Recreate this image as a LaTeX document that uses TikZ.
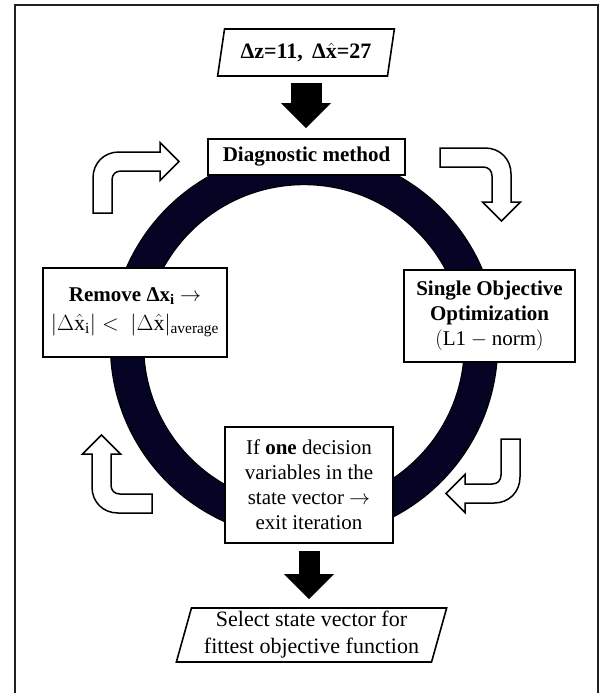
\RequirePackage{fix-cm}
\documentclass[tikz,border=0pt]{standalone}
\usepackage{amsmath}
\usepackage{amsfonts}
\usepackage{fontspec}
\setmainfont{Liberation Serif}
\usepackage{tikz}
\usetikzlibrary{shapes.geometric, arrows.meta, positioning}
\usepackage{xcolor}

\definecolor{ringnavy}{RGB}{6,4,36}
\definecolor{framegray}{RGB}{35,31,32}

% origin, rotation, reach, length
\newcommand{\bentarrow}[4]{%
  \begin{scope}[shift={#1}, rotate=#2]
    \draw[hollow] (0,0) -- (0,{-#3+26}) .. controls (0,{-#3+11}) and (11,-#3) .. (26,-#3)
      -- ({#4-19},-#3) -- ({#4-19},{-#3+9.5-19}) -- (#4,{-#3+9.5}) -- ({#4-19},{-#3+9.5+19})
      -- ({#4-19},{-#3+19}) -- (28,{-#3+19}) .. controls (22.5,{-#3+19}) and (19,{-#3+22.5}) .. (19,{-#3+28})
      -- (19,0) -- cycle;
  \end{scope}}

\begin{document}
\begin{tikzpicture}[x=1pt,y=-1pt,
  box/.style={draw, line width=1.6pt, fill=white, align=center, inner sep=0pt,
    font=\fontsize{21}{25}\selectfont},
  io/.style={trapezium, trapezium left angle=74, trapezium right angle=106,
    trapezium stretches=true, draw, line width=1.6pt, fill=white, align=center,
    inner sep=0pt, font=\fontsize{22}{27}\selectfont},
  bigarrow/.style={line width=31pt, -{Triangle[width=50pt,length=25pt,line width=0pt]}},
  hollow/.style={draw, line width=1.5pt, fill=white, line join=miter}]
  \useasboundingbox (0,0) rectangle (604,693);
  \draw[framegray, line width=2.5pt] (15,693) -- (15,5) -- (598,5) -- (598,693);

  \draw[double=ringnavy, double distance=32pt, line width=1.2pt] (304,345) circle[radius=177pt];

  \node[io, minimum width=177pt, minimum height=47pt] (in) at (306,52.5)
    {\textbf{Δz=11, \,Δ$\hat{\mathbf{x}}$=27}};
  \node[box, minimum width=197pt, minimum height=36pt] (diag) at (306.5,157)
    {\textbf{Diagnostic method}};
  \node[box, minimum width=171pt, minimum height=92pt] (single) at (489.5,316)
    {\textbf{Single Objective}\\\textbf{Optimization}\\$(\mathrm{L1}-\mathrm{norm})$};
  \node[box, minimum width=168pt, minimum height=116pt] (exit) at (309,485)
    {If \textbf{one} decision\\variables in the\\state vector $\rightarrow$\\exit iteration};
  \node[box, minimum width=184pt, minimum height=89pt] (remove) at (135,312.5)
    {\textbf{Remove Δx$_{\mathbf{i}}$} $\rightarrow$\\[4pt]
     {\fontsize{22}{25}\selectfont$|\Delta\hat{\mathrm{x}}_{\mathrm{i}}| <\ |\Delta\hat{\mathrm{x}}|_{\mathrm{average}}$}};
  \node[io, minimum width=271pt, minimum height=54pt] (out) at (311.5,635)
    {Select state vector for\\fittest objective function};

  \draw[bigarrow, shorten <=6pt, shorten >=10pt] (in.south) -- (in.south |- diag.north);
  \draw[bigarrow, line width=21pt, shorten <=7pt, shorten >=8pt] (exit.south) -- (exit.south |- out.north);

  \bentarrow{(93,213)}{0}{61}{86}
  \bentarrow{(440,148)}{-90}{71}{73}
  \bentarrow{(520,439)}{180}{64}{74}
  \bentarrow{(152,513)}{90}{60}{78}
\end{tikzpicture}
\end{document}
